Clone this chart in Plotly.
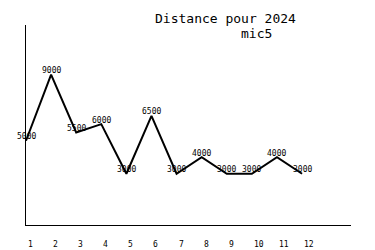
import plotly.graph_objects as go

months = [1, 2, 3, 4, 5, 6, 7, 8, 9, 10, 11, 12]
distances = [5000, 9000, 5500, 6000, 3000, 6500, 3000, 4000, 3000, 3000, 4000, 3000]
tick_labels = [str(m) for m in months]
title_line1 = "Distance pour 2024"
title_line2 = "mic5"

FONT = "DejaVu Sans Mono"

fig = go.Figure()
fig.add_trace(go.Scatter(
    x=months, y=distances, mode="lines",
    line=dict(color="black", width=2), hoverinfo="skip", showlegend=False,
))

annotations = []
for m, d in zip(months, distances):
    annotations.append(dict(
        x=m, y=d, xref="x", yref="y", text=str(d), showarrow=False,
        xanchor="center", yanchor="middle", yshift=4,
        font=dict(family=FONT, size=8, color="black"),
    ))
for m, lab in zip(months, tick_labels):
    annotations.append(dict(
        x=m, y=0, xref="x", yref="paper", text=lab, showarrow=False,
        xanchor="left", yanchor="middle", yshift=-19, xshift=0,
        font=dict(family=FONT, size=8, color="black"),
    ))
annotations.append(dict(
    x=0.615, y=1, xref="paper", yref="paper", text=title_line1, showarrow=False,
    xanchor="center", yanchor="middle", yshift=7,
    font=dict(family=FONT, size=13, color="black"),
))
annotations.append(dict(
    x=0.708, y=1, xref="paper", yref="paper", text=title_line2, showarrow=False,
    xanchor="center", yanchor="middle", yshift=-8,
    font=dict(family=FONT, size=13, color="black"),
))

fig.update_layout(
    width=375, height=250,
    margin=dict(l=26, r=24, t=25, b=25),
    paper_bgcolor="white", plot_bgcolor="white",
    annotations=annotations,
    xaxis=dict(range=[1, 13.95], showgrid=False, zeroline=False, showticklabels=False,
               ticks="", showline=True, linecolor="black", linewidth=1, fixedrange=True),
    yaxis=dict(range=[-100, 12000], showgrid=False, zeroline=False, showticklabels=False,
               ticks="", showline=True, linecolor="black", linewidth=1, fixedrange=True),
)

fig.write_html("out.html", config={"displayModeBar": False})
